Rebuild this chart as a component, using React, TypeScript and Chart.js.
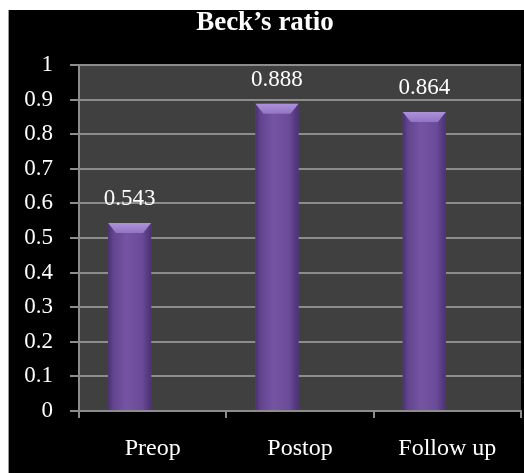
import React, { useEffect, useRef } from "react";
import { Chart, registerables } from "chart.js";

Chart.register(...registerables);

const categories = ["Preop", "Postop", "Follow up"];
const ratioValues = [0.543, 0.888, 0.864];
const titleText = "Beck\u2019s ratio";

const FONT = "'Liberation Serif', 'Times New Roman', serif";

const barStylePlugin = {
  id: "barStyle",
  afterDatasetsDraw(chart: any) {
    const meta = chart.getDatasetMeta(0);
    const ctx = chart.ctx;
    ctx.save();
    meta.data.forEach((bar: any, i: number) => {
      const half = bar.width / 2;
      const l = bar.x - half;
      const r = bar.x + half;
      const t = bar.y;
      const b = bar.base;
      const g = ctx.createLinearGradient(l, 0, r, 0);
      g.addColorStop(0, "#4a3070");
      g.addColorStop(0.12, "#62448e");
      g.addColorStop(0.42, "#7554a4");
      g.addColorStop(0.78, "#6a4b99");
      g.addColorStop(1, "#4b3172");
      ctx.fillStyle = g;
      ctx.fillRect(l, t, r - l, b - t);
      const cap = 10;
      const inset = 8;
      const gc = ctx.createLinearGradient(0, t, 0, t + cap);
      gc.addColorStop(0, "#ad92da");
      gc.addColorStop(1, "#9173c4");
      ctx.fillStyle = gc;
      ctx.beginPath();
      ctx.moveTo(l, t);
      ctx.lineTo(r, t);
      ctx.lineTo(r - inset, t + cap);
      ctx.lineTo(l + inset, t + cap);
      ctx.closePath();
      ctx.fill();
      // value label
      ctx.fillStyle = "#ffffff";
      ctx.font = `23px ${FONT}`;
      ctx.textAlign = "center";
      ctx.textBaseline = "alphabetic";
      ctx.fillText(String(ratioValues[i]), bar.x, t - 18);
    });
    ctx.restore();
  },
};

const plotBgPlugin = {
  id: "plotBg",
  beforeDraw(chart: any) {
    const { ctx, chartArea } = chart;
    ctx.save();
    ctx.fillStyle = "#404040";
    ctx.fillRect(chartArea.left, chartArea.top, chartArea.right - chartArea.left, chartArea.bottom - chartArea.top);
    ctx.restore();
  },
};

export default function App() {
  const ref = useRef<HTMLCanvasElement | null>(null);

  useEffect(() => {
    if (!ref.current) return;
    const chart = new Chart(ref.current, {
      type: "bar",
      data: {
        labels: categories,
        datasets: [
          {
            data: ratioValues,
            backgroundColor: "#6a4b99",
            borderWidth: 0,
            categoryPercentage: 0.626,
            barPercentage: 0.935,
          },
          {
            data: categories.map(() => null),
            backgroundColor: "transparent",
            categoryPercentage: 0.626,
            barPercentage: 0.935,
          },
        ],
      },
      options: {
        animation: false,
        responsive: true,
        maintainAspectRatio: false,
        layout: { padding: { left: 0, right: 3, top: 0, bottom: 0 } },
        plugins: {
          legend: { display: false },
          tooltip: { enabled: false },
          title: {
            display: true,
            text: titleText,
            color: "#ffffff",
            font: { family: FONT, size: 27, weight: "bold", lineHeight: 1 },
            padding: { top: 0, bottom: 28 },
          },
        },
        scales: {
          x: {
            offset: true,
            grid: {
              display: true,
              drawOnChartArea: false,
              drawTicks: true,
              tickLength: 7,
              color: "#8c8c8c",
              lineWidth: 2,
            },
            border: { display: true, color: "#8c8c8c", width: 2 },
            ticks: {
              color: "#ffffff",
              font: { family: FONT, size: 24 },
              padding: 16,
              maxRotation: 0,
            },
            afterFit: (scale: any) => {
              scale.height = 62;
            },
          },
          y: {
            min: 0,
            max: 1,
            grid: {
              color: "#8c8c8c",
              lineWidth: 2,
              drawTicks: true,
              tickLength: 9,
            },
            border: { display: true, color: "#8c8c8c", width: 2 },
            ticks: {
              stepSize: 0.1,
              color: "#ffffff",
              font: { family: FONT, size: 23 },
              padding: 17,
              callback: (v: any) => String(Number(Number(v).toFixed(1))),
            },
            afterFit: (scale: any) => {
              scale.width = 70;
            },
          },
        },
      },
      plugins: [plotBgPlugin, barStylePlugin],
    });
    return () => chart.destroy();
  }, []);

  return (
    <div
      style={{
        position: "fixed",
        left: 8,
        top: 10,
        width: 515,
        height: 463,
        background: "#000000",
        borderLeft: "1px solid #9a9a9a",
      }}
    >
      <canvas ref={ref} />
    </div>
  );
}
